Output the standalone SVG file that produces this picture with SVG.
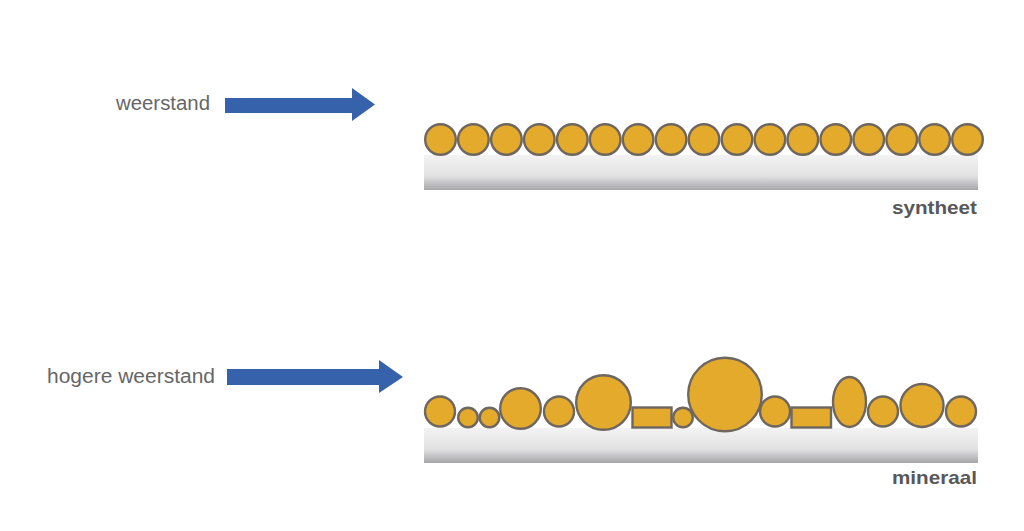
<svg xmlns="http://www.w3.org/2000/svg" width="1024" height="531" viewBox="0 0 1024 531">
<defs>
<linearGradient id="sub" x1="0" y1="0" x2="0" y2="1">
<stop offset="0" stop-color="#f3f3f3"/>
<stop offset="0.6" stop-color="#e2e2e3"/>
<stop offset="1" stop-color="#a6a6a9"/>
</linearGradient>
</defs>
<style>
.g{fill:#E4AA2B;stroke:#6E6660;stroke-width:2.4}
.sub{fill:url(#sub)}
.arr{fill:#3562AA}
.lbl{font-family:"Liberation Sans",Arial,sans-serif;font-size:20px;fill:#666666}
.name{font-family:"Liberation Sans",Arial,sans-serif;font-size:19px;font-weight:bold;fill:#58585A}
</style>
<rect width="1024" height="531" fill="#ffffff"/>

<g id="connectors">
<polygon class="arr" points="225,98 352,98 352,88 375,104.5 352,121 352,113 225,113"/>
<polygon class="arr" points="227,369 379,369 379,360 403,377 379,393 379,385 227,385"/>
</g>

<g id="label-weerstand">
<text class="lbl" x="116" y="110" textLength="94" lengthAdjust="spacingAndGlyphs">weerstand</text>
</g>
<g id="label-hogere-weerstand">
<text class="lbl" x="47" y="383" textLength="168" lengthAdjust="spacingAndGlyphs">hogere weerstand</text>
</g>

<g id="syntheet">
<rect class="sub" x="424" y="155" width="554" height="35"/>
<circle class="g" cx="440.5" cy="139.5" r="15.3"/>
<circle class="g" cx="473.4" cy="139.5" r="15.3"/>
<circle class="g" cx="506.4" cy="139.5" r="15.3"/>
<circle class="g" cx="539.3" cy="139.5" r="15.3"/>
<circle class="g" cx="572.3" cy="139.5" r="15.3"/>
<circle class="g" cx="605.2" cy="139.5" r="15.3"/>
<circle class="g" cx="638.1" cy="139.5" r="15.3"/>
<circle class="g" cx="671.1" cy="139.5" r="15.3"/>
<circle class="g" cx="704.0" cy="139.5" r="15.3"/>
<circle class="g" cx="737.0" cy="139.5" r="15.3"/>
<circle class="g" cx="769.9" cy="139.5" r="15.3"/>
<circle class="g" cx="802.8" cy="139.5" r="15.3"/>
<circle class="g" cx="835.8" cy="139.5" r="15.3"/>
<circle class="g" cx="868.7" cy="139.5" r="15.3"/>
<circle class="g" cx="901.7" cy="139.5" r="15.3"/>
<circle class="g" cx="934.6" cy="139.5" r="15.3"/>
<circle class="g" cx="967.5" cy="139.5" r="15.3"/>
<text class="name" x="977" y="214" text-anchor="end" textLength="85" lengthAdjust="spacingAndGlyphs">syntheet</text>
</g>

<g id="mineraal">
<rect class="sub" x="424" y="428" width="554" height="35"/>
<circle class="g" cx="440" cy="411.5" r="15"/>
<circle class="g" cx="468" cy="417.5" r="9.8"/>
<circle class="g" cx="489.5" cy="417.5" r="9.8"/>
<circle class="g" cx="520.5" cy="408.5" r="20.3"/>
<circle class="g" cx="559" cy="411.5" r="15"/>
<circle class="g" cx="603.5" cy="402.5" r="27.3"/>
<rect class="g" x="632.5" y="407.5" width="39" height="20"/>
<circle class="g" cx="683" cy="417.5" r="9.8"/>
<circle class="g" cx="725" cy="394.5" r="36.8"/>
<circle class="g" cx="775" cy="411.5" r="15"/>
<rect class="g" x="791.5" y="407.5" width="39.5" height="20"/>
<ellipse class="g" cx="849.5" cy="402" rx="16.5" ry="25"/>
<circle class="g" cx="883" cy="411.5" r="15"/>
<circle class="g" cx="922" cy="405.5" r="21.5"/>
<circle class="g" cx="961" cy="411.5" r="15"/>
<text class="name" x="977" y="484" text-anchor="end" textLength="85" lengthAdjust="spacingAndGlyphs">mineraal</text>
</g>
</svg>
